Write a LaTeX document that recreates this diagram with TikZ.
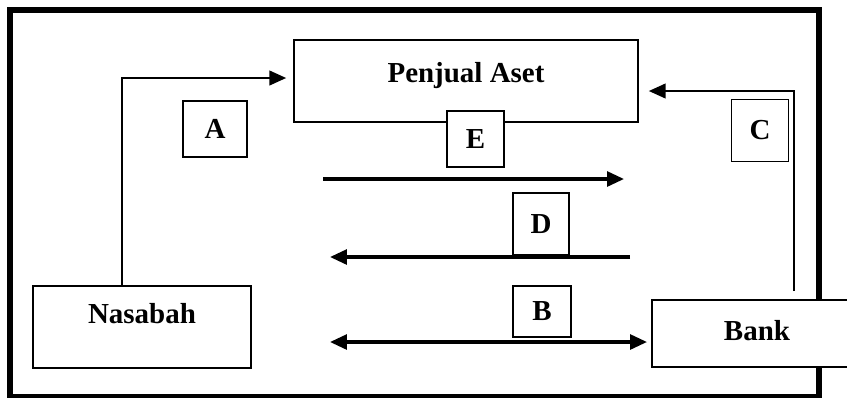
\documentclass[tikz,border=0pt]{standalone}
\usepackage{fontspec}
\setmainfont{Liberation Serif}
\usetikzlibrary{arrows.meta}

\begin{document}
\begin{tikzpicture}[x=0.025cm, y=-0.025cm, >={Triangle[length=12pt, width=10.5pt]},
    box/.style={draw, line width=1.1pt, fill=white, inner sep=0pt, font=\fontsize{20.6}{24}\selectfont\bfseries},
    elbow/.style={line width=1.4pt, ->},
    flow/.style={line width=2.3pt, ->}]
    \useasboundingbox (0, 0) rectangle (847, 397);
    \draw[line width=4.6pt, line join=miter] (10, 10) rectangle (819, 397.5);

    \node[box, minimum width=8.6cm, minimum height=2.05cm, text depth=0.425cm] (penjual) at (466, 81) {Penjual Aset};
    \node[box, minimum width=5.45cm, minimum height=2.05cm, text depth=0.7cm] (nasabah) at (142, 327) {Nasabah};
    \node[box, minimum width=5.25cm, minimum height=1.675cm, text depth=0.15cm] (bank) at (757, 333.5) {Bank};

    \node[box, minimum width=1.6cm, minimum height=1.4cm] (tagA) at (215, 129) {A};
    \node[box, minimum width=1.425cm, minimum height=1.55cm] (tagC) at (760, 130.5) {C};
    \node[box, minimum width=1.425cm, minimum height=1.4cm] (tagE) at (475.5, 139) {E};
    \node[box, minimum width=1.4cm, minimum height=1.55cm] (tagD) at (541, 224) {D};
    \node[box, minimum width=1.45cm, minimum height=1.275cm] (tagB) at (542, 311.5) {B};

    \draw[elbow] ([xshift=-0.5cm]nasabah.north) |- ([xshift=-0.175cm, yshift=0.075cm]penjual.west);
    \coordinate (cfoot) at (794, 291);
    \draw[elbow] (cfoot) |- ([xshift=0.25cm, yshift=-0.25cm]penjual.east);

    \coordinate (e1) at (323, 179);
    \coordinate (e2) at (624, 179);
    \draw[flow] (e1) -- (e2);
    \coordinate (d1) at (630, 257);
    \coordinate (d2) at (330, 257);
    \draw[flow] (d1) -- (d2);
    \coordinate (b1) at (330, 342);
    \coordinate (b2) at (647, 342);
    \draw[flow, <->] (b1) -- (b2);
\end{tikzpicture}
\end{document}
